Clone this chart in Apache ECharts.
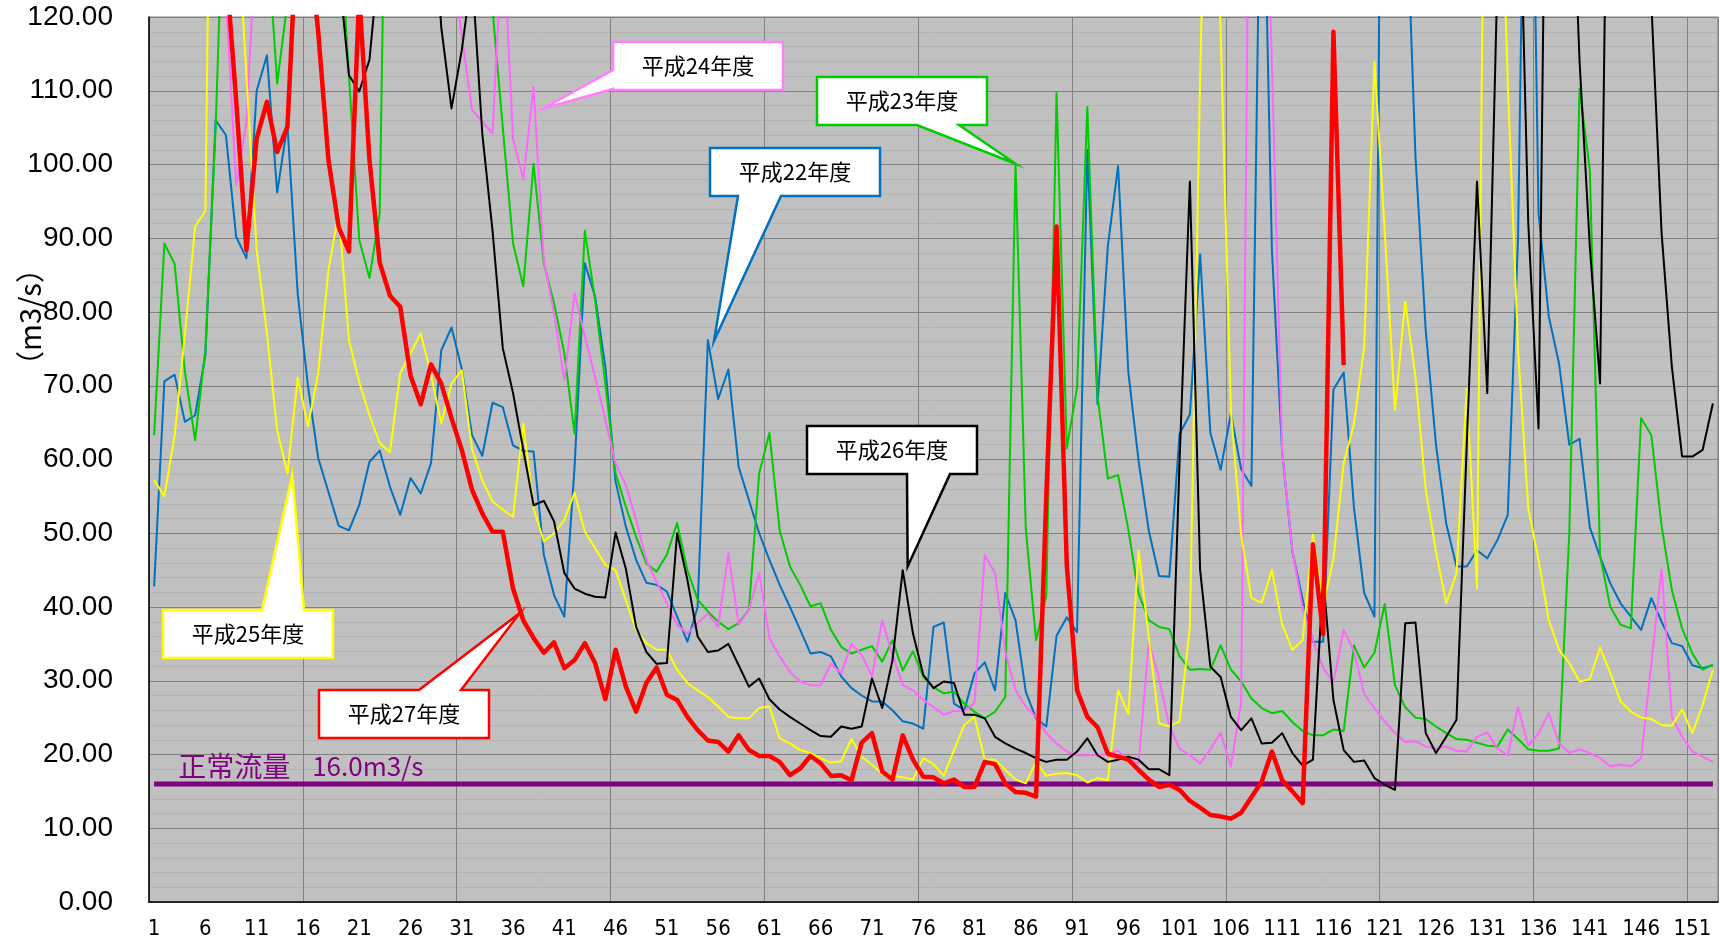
<!DOCTYPE html>
<html>
<head>
<meta charset="utf-8">
<title>正常流量と年度別流量</title>
<script src="https://cdn.jsdelivr.net/npm/echarts@6/dist/echarts.min.js"></script>
<style>
  html, body { margin: 0; padding: 0; background: #fff; }
  #chart { width: 1720px; height: 945px; }
</style>
</head>
<body>
<div id="chart"></div>
<script>
// 日数 1..153
const days = Array.from({ length: 153 }, (_, i) => String(i + 1));

const normalFlow = 16.0;

// 平成22年度
const h22 = [
  42.8, 70.6, 71.5, 65.1, 66.0, 74.2, 106.0, 104.0, 90.2, 87.3,
  110.0, 114.8, 96.2, 105.4, 82.5, 70.0, 60.2, 55.6, 51.0, 50.4,
  53.8, 59.7, 61.2, 56.3, 52.5, 57.5, 55.4, 59.5, 74.8, 77.9,
  72.3, 63.3, 60.5, 67.7, 67.1, 61.9, 61.2, 61.1, 47.1, 41.6,
  38.7, 59.0, 86.6, 82.1, 72.6, 57.0, 50.9, 46.4, 43.3, 43.0,
  42.1, 38.7, 35.3, 40.0, 76.2, 68.2, 72.2, 59.0, 54.5, 50.0,
  46.4, 43.0, 40.0, 36.9, 33.7, 33.9, 33.3, 30.6, 29.0, 28.0,
  27.2, 27.2, 26.0, 24.5, 24.2, 23.5, 37.3, 37.9, 26.9, 26.0,
  31.0, 32.5, 28.7, 41.9, 38.2, 28.5, 24.9, 23.8, 36.1, 38.6,
  36.6, 102.0, 67.5, 88.9, 99.8, 71.8, 59.8, 50.3, 44.2, 44.1,
  63.5, 66.1, 87.8, 63.6, 58.6, 66.2, 58.7, 56.4, 154, 88.4,
  61.0, 47.5, 41.0, 35.3, 35.3, 69.5, 71.8, 53.5, 41.9, 38.7,
  219, 180, 141, 101.0, 77.5, 62.0, 51.3, 45.5, 45.5, 47.7,
  46.6, 49.1, 52.5, 90.0, 183, 93.4, 79.4, 73.0, 62.0, 62.8,
  50.8, 46.8, 43.2, 40.5, 38.7, 36.9, 41.2, 38.0, 35.1, 34.7,
  32.1, 31.7, 32.1
];

// 平成23年度
const h23 = [
  63.3, 89.3, 86.5, 71.9, 62.6, 75.0, 105.0, 148, 180, 200,
  170, 132, 111.0, 122, 160, 190, 170, 150, 135, 112.0,
  89.8, 84.6, 93.4, 185, 200, 190, 180, 170, 175, 165,
  160, 150, 140, 121, 105.0, 89.3, 83.5, 100.1, 86.6, 81.2,
  74.4, 63.5, 91.0, 81.6, 70.3, 58.1, 53.6, 49.5, 45.9, 44.8,
  47.1, 51.4, 45.0, 41.0, 39.4, 38.0, 37.0, 37.8, 39.6, 58.1,
  63.6, 50.4, 45.5, 43.0, 40.1, 40.5, 36.9, 34.6, 33.7, 34.2,
  34.7, 32.6, 35.5, 31.4, 34.0, 30.5, 29.1, 28.3, 28.5, 26.9,
  25.8, 24.9, 25.8, 27.8, 100.1, 50.6, 35.5, 41.5, 109.7, 61.5,
  69.8, 107.8, 68.6, 57.4, 57.9, 50.5, 41.8, 38.2, 37.3, 37.0,
  33.3, 31.5, 31.6, 31.5, 34.8, 31.5, 29.9, 27.6, 26.3, 25.6,
  25.9, 24.4, 23.2, 22.6, 22.6, 23.4, 23.2, 34.8, 31.8, 33.8,
  40.4, 29.4, 26.4, 25.0, 24.8, 23.8, 22.9, 22.1, 22.0, 21.6,
  21.2, 21.1, 23.4, 22.1, 20.7, 20.5, 20.5, 20.8, 50.0, 110.3,
  99.3, 47.0, 40.0, 37.6, 37.1, 65.6, 63.3, 51.0, 42.3, 37.1,
  33.7, 31.5, 32.2
];

// 平成24年度
const h24 = [
  170, 190, 200, 185, 175, 160, 150, 123, 97.2, 105.6,
  133, 170, 200, 230, 220, 200, 190, 180, 170, 175,
  180, 170, 165, 160, 155, 150, 145, 140, 135, 128,
  117.5, 107.4, 105.8, 104.2, 132, 103.5, 98.0, 110.5, 87.0, 79.8,
  70.8, 82.5, 76.7, 71.2, 65.4, 59.5, 56.5, 51.8, 46.4, 43.4,
  40.5, 37.6, 36.4, 37.8, 39.1, 37.3, 47.3, 37.6, 39.6, 44.6,
  35.8, 33.3, 31.2, 29.9, 29.4, 29.4, 32.3, 31.0, 35.0, 33.5,
  30.6, 38.2, 33.5, 29.4, 28.7, 27.4, 26.4, 25.4, 25.9, 25.9,
  27.0, 47.0, 44.6, 33.9, 28.7, 26.5, 25.1, 22.9, 21.5, 20.4,
  19.9, 19.9, 19.9, 20.1, 20.5, 19.3, 18.8, 35.3, 30.3, 23.8,
  20.8, 19.9, 18.8, 20.7, 22.9, 18.4, 27.1, 179, 163, 113.6,
  61.0, 47.7, 39.8, 35.5, 31.7, 29.8, 36.9, 34.0, 28.2, 26.3,
  24.5, 22.9, 21.7, 21.8, 21.1, 20.8, 21.1, 20.5, 20.4, 22.4,
  23.0, 20.8, 19.9, 26.4, 21.2, 22.9, 25.6, 21.5, 20.2, 20.7,
  20.2, 19.5, 18.4, 18.6, 18.4, 19.5, 32.4, 45.1, 25.1, 22.4,
  20.4, 19.7, 19.0
];

// 平成25年度
const h25 = [
  57.2, 55.0, 63.2, 77.0, 91.6, 93.7, 208, 180, 136, 112,
  88.4, 77.1, 64.0, 58.1, 71.1, 64.5, 71.7, 85.7, 93.5, 76.2,
  70.5, 66.0, 62.2, 61.0, 71.7, 74.4, 77.1, 71.5, 64.9, 70.3,
  72.1, 61.4, 57.2, 54.3, 53.2, 52.2, 64.9, 53.4, 48.9, 50.0,
  51.8, 55.5, 50.2, 48.0, 45.7, 45.0, 40.9, 36.9, 35.1, 34.2,
  34.2, 31.5, 29.7, 28.7, 27.8, 26.5, 25.1, 24.9, 24.9, 26.3,
  26.5, 22.2, 21.5, 20.6, 20.2, 19.5, 18.9, 19.1, 22.1, 19.7,
  18.6, 17.4, 17.1, 16.9, 16.6, 19.5, 18.7, 17.1, 20.6, 24.0,
  25.1, 19.3, 19.3, 17.9, 16.6, 16.1, 19.0, 17.1, 17.4, 17.5,
  17.2, 16.2, 16.8, 16.5, 28.7, 25.5, 47.7, 35.8, 24.2, 23.8,
  24.5, 37.3, 112, 170, 118, 66.6, 49.8, 41.2, 40.6, 45.0,
  37.6, 34.2, 35.5, 49.8, 40.2, 46.5, 59.5, 64.8, 75.3, 113.9,
  91.0, 66.7, 81.4, 71.2, 55.9, 47.5, 40.5, 44.6, 69.7, 42.5,
  191, 156, 111, 75.0, 53.4, 46.4, 38.2, 34.2, 32.4, 29.9,
  30.2, 34.5, 31.0, 27.2, 25.8, 25.0, 24.8, 24.0, 23.9, 26.1,
  22.9, 26.7, 31.5
];

// 平成26年度
const h26 = [
  250, 260, 270, 280, 290, 300, 310, 300, 290, 280,
  270, 260, 250, 240, 220, 200, 180, 160, 126.5, 112.1,
  109.9, 114.2, 129, 160, 180, 190, 170, 140, 118.6, 107.6,
  115.5, 126, 104.2, 91.0, 75.1, 69.0, 61.3, 53.8, 54.4, 51.6,
  44.6, 42.5, 41.8, 41.4, 41.3, 50.1, 45.2, 37.3, 33.9, 32.3,
  32.4, 50.0, 43.7, 36.0, 33.9, 34.1, 35.0, 32.1, 29.2, 30.3,
  27.5, 26.1, 25.1, 24.2, 23.3, 22.5, 22.4, 23.8, 23.5, 23.8,
  30.3, 26.3, 32.8, 45.0, 36.4, 30.8, 29.0, 29.9, 29.7, 25.4,
  25.4, 24.9, 22.4, 21.5, 20.8, 20.2, 19.5, 19.0, 19.3, 19.3,
  20.4, 22.2, 19.9, 19.0, 19.3, 19.7, 19.3, 18.0, 18.0, 17.2,
  60.0, 97.7, 45.0, 31.9, 30.5, 25.1, 23.3, 24.9, 21.5, 21.6,
  22.9, 20.2, 18.5, 19.3, 44.1, 27.4, 20.6, 19.0, 19.2, 16.8,
  15.9, 15.2, 37.8, 37.9, 22.9, 20.2, 22.4, 24.7, 62.0, 97.7,
  69.0, 126, 200, 148, 92.0, 64.2, 185, 200, 150, 114,
  88.9, 70.3, 180, 220, 200, 170, 122, 90.7, 72.6, 60.4,
  60.4, 61.3, 67.6
];

// 平成27年度 (117日目まで)
const h27 = [
  150, 160, 170, 180, 175, 165, 145, 127, 108.7, 88.4,
  103.5, 108.5, 101.7, 105.1, 134, 132, 118, 100.6, 91.5, 88.2,
  123, 100.6, 86.7, 82.2, 80.7, 71.4, 67.5, 72.9, 70.3, 65.6,
  61.3, 55.9, 52.7, 50.2, 50.2, 42.5, 38.2, 35.8, 33.8, 35.2,
  31.7, 32.8, 35.1, 32.4, 27.5, 34.2, 29.2, 25.8, 29.7, 31.8,
  28.1, 27.4, 25.1, 23.3, 21.9, 21.7, 20.4, 22.6, 20.6, 19.8,
  19.8, 19.0, 17.2, 18.1, 19.8, 18.8, 17.1, 17.2, 16.5, 21.6,
  22.9, 17.7, 16.6, 22.6, 19.3, 17.0, 16.9, 16.1, 16.6, 15.6,
  15.6, 19.0, 18.7, 16.1, 14.9, 14.8, 14.3, 55.0, 91.6, 45.6,
  28.7, 25.1, 23.7, 20.1, 19.7, 19.3, 17.9, 16.6, 15.6, 15.9,
  15.2, 13.7, 12.8, 11.8, 11.6, 11.3, 12.1, 14.2, 16.3, 20.4,
  16.5, 15.0, 13.4, 48.5, 36.3, 118.0, 72.8
];

// 吹き出し: ラベル と 指し先 [日, 流量]
const calloutLabels = ['平成22年度', '平成23年度', '平成24年度', '平成25年度', '平成26年度', '平成27年度'];
const calloutTips = [[55.6, 76.1], [85.0, 100.1], [38.95, 107.6], [14.47, 57.9], [74.48, 45.5], [36.67, 39.2]];

const colors = {
  h22: '#0070c0', h23: '#00cc00', h24: '#ff66ff', h25: '#ffff00',
  h26: '#000000', h27: '#ff0000', normal: '#800080'
};

// 吹き出しの箱の配置 (px)
const boxes = [
  { x: 710, y: 148, side: 'bottom', base: [738, 781], color: colors.h22 },
  { x: 817, y: 77, side: 'bottom', base: [917, 959], color: colors.h23 },
  { x: 613, y: 42, side: 'left', base: [70, 89], color: '#ff80ff' },
  { x: 163, y: 610, side: 'top', base: [262, 304], color: colors.h25 },
  { x: 807, y: 426, side: 'bottom', base: [907, 950], color: colors.h26 },
  { x: 319, y: 690, side: 'top', base: [419, 461], color: colors.h27 }
];
const BOX_W = 170, BOX_H = 48;

const chart = echarts.init(document.getElementById('chart'), null, { renderer: 'canvas' });

function line(name, data, color, width, z) {
  return {
    name, type: 'line', data, z,
    symbol: 'none', silent: true,
    lineStyle: { color, width, join: 'round' },
    itemStyle: { color },
    emphasis: { disabled: true }
  };
}

chart.setOption({
  animation: false,
  backgroundColor: '#ffffff',
  grid: {
    left: 149, right: 2, top: 17, bottom: 43,
    show: true, backgroundColor: '#c0c0c0', borderColor: '#808080', borderWidth: 1
  },
  xAxis: {
    type: 'category',
    data: days,
    boundaryGap: true,
    axisLine: { lineStyle: { color: '#000', width: 1.5 } },
    axisTick: { show: false },
    axisLabel: {
      interval: 4, color: '#000', fontSize: 22, margin: 16,
      fontFamily: '"Liberation Sans Narrow", "DejaVu Sans Condensed", "Liberation Sans", sans-serif'
    },
    splitLine: {
      show: true,
      interval: (i) => i % 15 === 0,
      lineStyle: { color: '#808080', width: 1 }
    }
  },
  yAxis: {
    type: 'value',
    min: 0, max: 120, interval: 10,
    axisLine: { show: true, lineStyle: { color: '#000', width: 1.5 } },
    axisTick: { show: false },
    axisLabel: {
      formatter: (v) => v.toFixed(2),
      color: '#000', fontSize: 28, margin: 36,
      fontFamily: '"Liberation Sans", Arial, sans-serif'
    },
    splitLine: { lineStyle: { color: '#808080', width: 1 } },
    minorTick: { show: false, splitNumber: 5 },
    minorSplitLine: { show: true, lineStyle: { color: '#b3b3b3', width: 1 } }
  },
  series: [
    line('正常流量', days.map(() => normalFlow), colors.normal, 5, 2),
    line('平成22年度', h22, colors.h22, 2, 3),
    line('平成23年度', h23, colors.h23, 2, 3),
    line('平成24年度', h24, colors.h24, 2, 3),
    line('平成25年度', h25, colors.h25, 2, 3),
    line('平成26年度', h26, colors.h26, 2, 4),
    line('平成27年度', h27, colors.h27, 4.5, 5)
  ]
});

// 日(小数可)・流量 → px
function toPx(day, val) {
  const i = Math.floor(day) - 1;
  const f = day - Math.floor(day);
  const a = chart.convertToPixel({ gridIndex: 0 }, [i, val]);
  const b = chart.convertToPixel({ gridIndex: 0 }, [i + 1, val]);
  return [a[0] + (b[0] - a[0]) * f, a[1]];
}

const graphics = [];

boxes.forEach((bx, k) => {
  const tip = toPx(calloutTips[k][0], calloutTips[k][1]);
  const x0 = bx.x, y0 = bx.y, x1 = bx.x + BOX_W, y1 = bx.y + BOX_H;
  let pts;
  if (bx.side === 'bottom') {
    pts = [[x0, y0], [x1, y0], [x1, y1], [bx.base[1], y1], tip, [bx.base[0], y1], [x0, y1]];
  } else if (bx.side === 'top') {
    pts = [[x0, y0], [bx.base[0], y0], tip, [bx.base[1], y0], [x1, y0], [x1, y1], [x0, y1]];
  } else {
    pts = [[x0, y0], [x1, y0], [x1, y1], [x0, y1], [x0, bx.base[1]], tip, [x0, bx.base[0]]];
  }
  graphics.push({
    type: 'polygon', z: 100, silent: true,
    shape: { points: pts },
    style: { fill: '#ffffff', stroke: bx.color, lineWidth: 2.5, lineJoin: 'miter' }
  });
  graphics.push({
    type: 'text', z: 101, silent: true,
    x: (x0 + x1) / 2, y: (y0 + y1) / 2,
    style: {
      text: calloutLabels[k], fill: '#000',
      fontSize: 22, fontFamily: '"Noto Sans CJK JP", sans-serif',
      align: 'center', verticalAlign: 'middle'
    }
  });
});

// 正常流量ラベル
const nf = toPx(1, normalFlow);
graphics.push({
  type: 'text', z: 101, silent: true,
  x: nf[0] + 24, y: nf[1] - 18,
  style: {
    text: '正常流量', fill: colors.normal,
    fontSize: 28, fontFamily: '"Noto Sans CJK JP", sans-serif',
    align: 'left', verticalAlign: 'middle'
  }
});
graphics.push({
  type: 'text', z: 101, silent: true,
  x: nf[0] + 158, y: nf[1] - 18,
  style: {
    text: '16.0m3/s', fill: colors.normal,
    fontSize: 26, fontFamily: '"Noto Sans CJK JP", sans-serif',
    align: 'left', verticalAlign: 'middle'
  }
});

// 縦軸単位
graphics.push({
  type: 'text', z: 101, silent: true,
  x: 30, y: 317, rotation: Math.PI / 2,
  style: {
    text: '（m3/s）', fill: '#000',
    fontSize: 29, fontFamily: '"Noto Sans CJK JP", sans-serif',
    align: 'center', verticalAlign: 'middle'
  }
});

chart.setOption({ graphic: graphics });
</script>
</body>
</html>
